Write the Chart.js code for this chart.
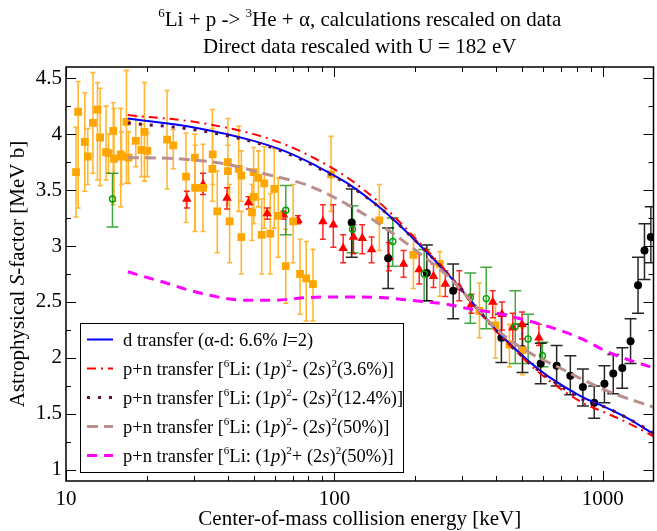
<!DOCTYPE html>
<html lang="en">
<head>
<meta charset="utf-8">
<title>6Li + p S-factor</title>
<script src="https://cdn.jsdelivr.net/npm/chart.js@4.4.1/dist/chart.umd.min.js"></script>
<style>
  html, body { margin:0; padding:0; background:#fff; overflow:hidden; }
  #wrap { width:657px; height:531px; overflow:hidden; }
</style>
</head>
<body>
<div id="wrap"><canvas id="cv" width="659" height="531"></canvas></div>
<script>

// ---- data points (E in keV, S in MeV b, error bar low/high) ----
// orange squares
const orE  = [10.9,11.1,11.75,12.05,12.6,13.1,13.4,14.1,14.4,15.0,15.1,16.0,16.1,16.8,17.1,18.2,19.1,19.6,20.1,23.8,25.1,28.0,30.2,30.3,32.4,35.1,35.2,36.6,40.1,40.1,40.7,44.0,45.0,45.0,49.3,50.0,50.1,52.1,53.6,54.8,57.7,59.7,61.8,65.9,70.2,74.5,78.5,83.2,97.2,147,197,247,347,398,449,502];
const orS  = [3.66,4.20,3.93,3.80,4.10,4.22,3.97,3.84,3.83,4.03,3.78,3.82,3.80,4.11,3.79,3.94,3.86,4.02,3.85,3.95,3.90,3.62,3.79,3.52,3.52,3.69,3.82,3.31,3.75,3.67,3.22,3.69,3.63,3.08,3.30,3.66,3.44,3.61,3.10,3.56,3.11,3.51,3.27,2.82,3.22,2.75,2.71,2.66,3.64,3.23,2.92,2.84,2.42,2.29,2.12,2.07];
const orLo = [3.26,3.34,3.49,3.55,3.65,3.59,3.54,3.59,3.65,3.37,3.40,3.35,3.55,3.56,3.56,3.71,3.62,3.58,3.62,3.51,3.69,3.21,3.13,3.13,3.13,3.40,3.55,2.94,3.37,3.45,2.85,3.31,3.40,2.75,3.05,3.45,3.20,3.35,2.75,3.16,2.75,3.16,2.90,2.49,2.85,2.39,2.33,2.33,3.31,2.96,2.62,2.55,2.18,2.00,1.92,1.85];
const orHi = [4.06,4.47,4.37,4.05,4.55,4.46,4.41,4.25,4.00,4.28,4.23,4.23,4.02,4.57,4.02,4.16,4.09,4.46,4.01,4.39,4.04,4.01,4.00,3.90,3.91,4.22,4.05,3.67,4.14,3.90,3.55,4.07,3.85,3.31,3.55,3.88,3.67,3.85,3.42,3.89,3.47,3.87,3.61,3.15,3.55,3.06,3.04,2.97,3.98,3.55,3.10,2.95,2.67,2.48,2.30,2.27];

// red triangles
const rdE  = [28.2,32.4,39.8,47.9,56.2,64.6,73.2,90.6,99.1,107.8,117.8,127,137.6,159.6,181,207,234,259,292,324,389,421,462,500,578];
const rdS  = [3.42,3.55,3.43,3.39,3.29,3.28,3.23,3.22,3.19,2.98,3.08,3.07,2.97,2.90,2.84,2.79,2.73,2.66,2.63,2.48,2.50,2.39,2.27,2.30,2.18];
const rdLo = [3.34,3.46,3.33,3.33,3.24,3.24,3.20,3.06,2.99,2.85,2.93,2.93,2.85,2.78,2.72,2.66,2.63,2.55,2.51,2.40,2.36,2.25,2.14,2.17,2.11];
const rdHi = [3.49,3.65,3.52,3.44,3.34,3.31,3.27,3.37,3.37,3.10,3.19,3.19,3.08,3.03,2.96,2.93,2.84,2.78,2.78,2.57,2.60,2.50,2.40,2.41,2.30];

// green open circles
const grE  = [14.9,65.9,116.8,165,216,321,368,472,527,596];
const grS  = [3.42,3.32,3.15,3.04,2.75,2.54,2.53,2.28,2.17,2.02];
const grLo = [3.17,3.10,2.94,2.82,2.51,2.31,2.26,1.95,1.95,1.92];
const grHi = [3.65,3.54,3.36,3.25,2.97,2.76,2.81,2.60,2.39,2.14];

// black circles
const bkE  = [116,158.6,221,277,419,502,587,673,757,843,929,1014,1094,1182,1269,1353,1430,1510];
const bkS  = [3.21,2.89,2.76,2.60,2.18,2.08,1.95,1.93,1.84,1.74,1.60,1.77,1.86,1.91,2.15,2.65,2.96,3.08];
const bkLo = [2.90,2.62,2.51,2.35,1.96,1.87,1.77,1.75,1.67,1.57,1.46,1.60,1.68,1.73,1.95,2.40,2.70,2.85];
const bkHi = [3.51,3.16,3.01,2.84,2.39,2.30,2.13,2.11,2.02,1.90,1.75,1.93,2.03,2.09,2.35,2.90,3.20,3.35];

// ---- calculations ----
const calcE   = [17,30,50,65,85,112,150,200,262,300,400,530,630,840,1000,1240,1545];
const dTrans  = [4.14,4.06,3.94,3.85,3.72,3.56,3.33,3.05,2.76,2.60,2.25,1.97,1.83,1.65,1.57,1.46,1.32];
const pn36    = [4.17,4.11,4.00,3.91,3.78,3.61,3.37,3.07,2.77,2.59,2.24,1.95,1.80,1.60,1.52,1.42,1.30];
const pn124   = [4.10,4.04,3.93,3.84,3.71,3.55,3.33,3.05,2.76,2.60,2.25,1.96,1.82,1.63,1.57,1.46,1.33];
const tanE    = [17,26,40,54,80,118,157,209,262,320,400,530,667,836,1050,1545];
const pn50m   = [3.79,3.78,3.73,3.65,3.54,3.34,3.15,2.93,2.74,2.52,2.26,2.05,1.93,1.81,1.70,1.56];
const magE    = [17,20,23.6,28.3,35,46.6,58,80,100,148,200,262,300,400,530,667,836,1050,1545];
const pn50p   = [2.77,2.72,2.67,2.61,2.555,2.515,2.515,2.54,2.545,2.54,2.51,2.48,2.45,2.40,2.33,2.26,2.17,2.05,1.91];

const xTicks = [10, 100, 1000];
const yTicks = [1, 1.5, 2, 2.5, 3, 3.5, 4, 4.5];

const FONT = 'Liberation Serif';

function pts(xs, ys) { return xs.map((x, i) => ({x: x, y: ys[i]})); }

function curve(xs, ys, color, width, dash) {
  return { type:'line', data: pts(xs, ys), borderColor: color, borderWidth: width,
    borderDash: dash, pointRadius: 0, fill: false, cubicInterpolationMode: 'monotone', order: 1 };
}
function marks(xs, ys, style, radius, bg, border, bw) {
  return { type:'scatter', data: pts(xs, ys), pointStyle: style, pointRadius: radius,
    backgroundColor: bg, borderColor: border, borderWidth: bw, order: 2 };
}

// text with superscripts / italics: parts = [[text, kind]], kind '', 'i' or 's'
function rich(ctx, parts, x, y, size, center) {
  const f = k => (k === 'i' ? 'italic ' : '') + (k === 's' ? Math.round(size * 0.62) : size) + 'px "' + FONT + '"';
  let w = 0;
  parts.forEach(p => { ctx.font = f(p[1]); w += ctx.measureText(p[0]).width; });
  let cx = center ? x - w / 2 : x;
  ctx.textAlign = 'left';
  ctx.textBaseline = 'alphabetic';
  parts.forEach(p => {
    ctx.font = f(p[1]);
    ctx.fillText(p[0], cx, p[1] === 's' ? y - size * 0.42 : y);
    cx += ctx.measureText(p[0]).width;
  });
}

function errBars(chart, xs, lo, hi, color, width, cap) {
  const c = chart.ctx, sx = chart.scales.x, sy = chart.scales.y;
  c.strokeStyle = color; c.lineWidth = width;
  c.beginPath();
  xs.forEach((x, i) => {
    const px = sx.getPixelForValue(x), y1 = sy.getPixelForValue(lo[i]), y2 = sy.getPixelForValue(hi[i]);
    c.moveTo(px, y1); c.lineTo(px, y2);
    c.moveTo(px - cap, y1); c.lineTo(px + cap, y1);
    c.moveTo(px - cap, y2); c.lineTo(px + cap, y2);
  });
  c.stroke();
}

const legendRows = [
  { color:'#0000ff', dash:[], w:2, parts:[['d transfer (α-d: 6.6% ',''],['l','i'],['=2)','']] },
  { color:'#ff0000', dash:[9,5,2,5], w:2, parts:[['p+n transfer [',''],['6','s'],['Li: (1',''],['p','i'],[')',''],['2','s'],['- (2',''],['s','i'],[')',''],['2','s'],['(3.6%)]','']] },
  { color:'#5c0a4e', dash:[3,8], w:3, parts:[['p+n transfer [',''],['6','s'],['Li: (1',''],['p','i'],[')',''],['2','s'],['- (2',''],['s','i'],[')',''],['2','s'],['(12.4%)]','']] },
  { color:'#bc8f8f', dash:[11,6], w:3, parts:[['p+n transfer [',''],['6','s'],['Li: (1',''],['p','i'],[')',''],['2','s'],['- (2',''],['s','i'],[')',''],['2','s'],['(50%)]','']] },
  { color:'#ff00ff', dash:[10,7], w:3, parts:[['p+n transfer [',''],['6','s'],['Li: (1',''],['p','i'],[')',''],['2','s'],['+ (2',''],['s','i'],[')',''],['2','s'],['(50%)]','']] }
];

const decor = {
  id: 'decor',
  beforeDatasetsDraw(chart) {
    const c = chart.ctx, a = chart.chartArea;
    c.save();
    c.beginPath(); c.rect(a.left, a.top, a.right - a.left, a.bottom - a.top); c.clip();
    errBars(chart, orE, orLo, orHi, 'rgba(255,165,0,0.8)', 1.6, 2.5);
    errBars(chart, grE, grLo, grHi, 'rgba(0,140,0,0.75)', 1.5, 6);
    errBars(chart, bkE, bkLo, bkHi, 'rgba(0,0,0,0.85)', 1.5, 6);
    errBars(chart, rdE, rdLo, rdHi, 'rgba(255,0,0,0.85)', 1.5, 3);
    c.restore();
  },
  afterDraw(chart) {
    const c = chart.ctx, a = chart.chartArea, sx = chart.scales.x, sy = chart.scales.y;
    c.save();
    c.fillStyle = '#000';
    // ticks, pointing inside, on all four sides
    c.strokeStyle = '#000'; c.lineWidth = 1;
    c.beginPath();
    for (let d = 10; d <= 1000; d *= 10) {
      for (let m = 1; m <= 9; m++) {
        const v = m * d;
        if (v > sx.max) break;
        const px = Math.round(sx.getPixelForValue(v)) + 0.5;
        const len = m === 1 ? 10 : 5;
        c.moveTo(px, a.bottom); c.lineTo(px, a.bottom - len);
        c.moveTo(px, a.top); c.lineTo(px, a.top + len);
      }
    }
    for (let v = 1; v <= 4.5001; v += 0.25) {
      const py = Math.round(sy.getPixelForValue(v)) + 0.5;
      const len = Math.abs(v * 2 - Math.round(v * 2)) < 0.01 ? 10 : 5;
      c.moveTo(a.left, py); c.lineTo(a.left + len, py);
      c.moveTo(a.right, py); c.lineTo(a.right - len, py);
    }
    c.stroke();
    c.lineWidth = 1.5;
    c.strokeRect(a.left, a.top, a.right - a.left, a.bottom - a.top);

    // legend box
    const lx = 80.5, ly = 323.5, lw = 323, lh = 149;
    c.fillStyle = '#fff'; c.fillRect(lx, ly, lw, lh);
    c.lineWidth = 1; c.strokeStyle = '#000'; c.strokeRect(lx, ly, lw, lh);
    legendRows.forEach((r, i) => {
      const y = 339.5 + i * 29;
      c.strokeStyle = r.color; c.lineWidth = r.w; c.setLineDash(r.dash);
      c.beginPath(); c.moveTo(87, y); c.lineTo(113, y); c.stroke();
      c.setLineDash([]);
      c.fillStyle = '#000';
      rich(c, r.parts, 123, y + 6, 18.5, false);
    });

    // titles
    c.fillStyle = '#000';
    const mid = (a.left + a.right) / 2;
    rich(c, [['6','s'],['Li + p -> ',''],['3','s'],['He + α, calculations rescaled on data','']], mid, 26, 21, true);
    rich(c, [['Direct data rescaled with U = 182 eV','']], mid, 53, 21, true);
    rich(c, [['Center-of-mass collision energy [keV]','']], mid, 525, 21, true);
    c.translate(24, (a.top + a.bottom) / 2);
    c.rotate(-Math.PI / 2);
    rich(c, [['Astrophysical ',''],['S','i'],['-factor [MeV b]','']], 0, 0, 21, true);
    c.restore();
  }
};

const chart = new Chart(document.getElementById('cv'), {
  type: 'scatter',
  data: {
    datasets: [
      curve(magE, pn50p, '#ff00ff', 3, [10,7]),
      curve(tanE, pn50m, '#bc8f8f', 3, [11,6]),
      curve(calcE, pn124, '#5c0a4e', 3, [3,8]),
      curve(calcE, pn36, '#ff0000', 2, [9,5,2,5]),
      curve(calcE, dTrans, '#0000ff', 2, []),
      marks(orE, orS, 'rect', 5.5, '#ffa500', '#ffa500', 0),
      marks(grE, grS, 'circle', 3, 'rgba(255,255,255,0)', '#00a000', 1.4),
      marks(bkE, bkS, 'circle', 4, '#000', '#000', 0),
      marks(rdE, rdS, 'triangle', 5.5, '#ff0000', '#ff0000', 0)
    ]
  },
  options: {
    responsive: false,
    animation: false,
    events: [],
    layout: { padding: { top: 67, left: 0, right: 0, bottom: 0 } },
    plugins: { legend: { display: false }, tooltip: { enabled: false }, title: { display: false } },
    scales: {
      x: {
        type: 'logarithmic', min: 10, max: 1545,
        grid: { display: false, drawTicks: false }, border: { display: false },
        afterBuildTicks: s => { s.ticks = xTicks.map(v => ({ value: v })); },
        afterFit: s => { s.height = 50; },
        ticks: { color: '#000', padding: 6, maxRotation: 0, autoSkip: false,
          font: { family: FONT, size: 21 }, callback: v => String(v) }
      },
      y: {
        min: 0.9, max: 4.6,
        grid: { display: false, drawTicks: false }, border: { display: false },
        afterBuildTicks: s => { s.ticks = yTicks.map(v => ({ value: v })); },
        afterFit: s => { s.width = 66; },
        ticks: { color: '#000', padding: 4, font: { family: FONT, size: 21 }, callback: v => String(v) }
      }
    }
  },
  plugins: [decor]
});
</script>
</body>
</html>
